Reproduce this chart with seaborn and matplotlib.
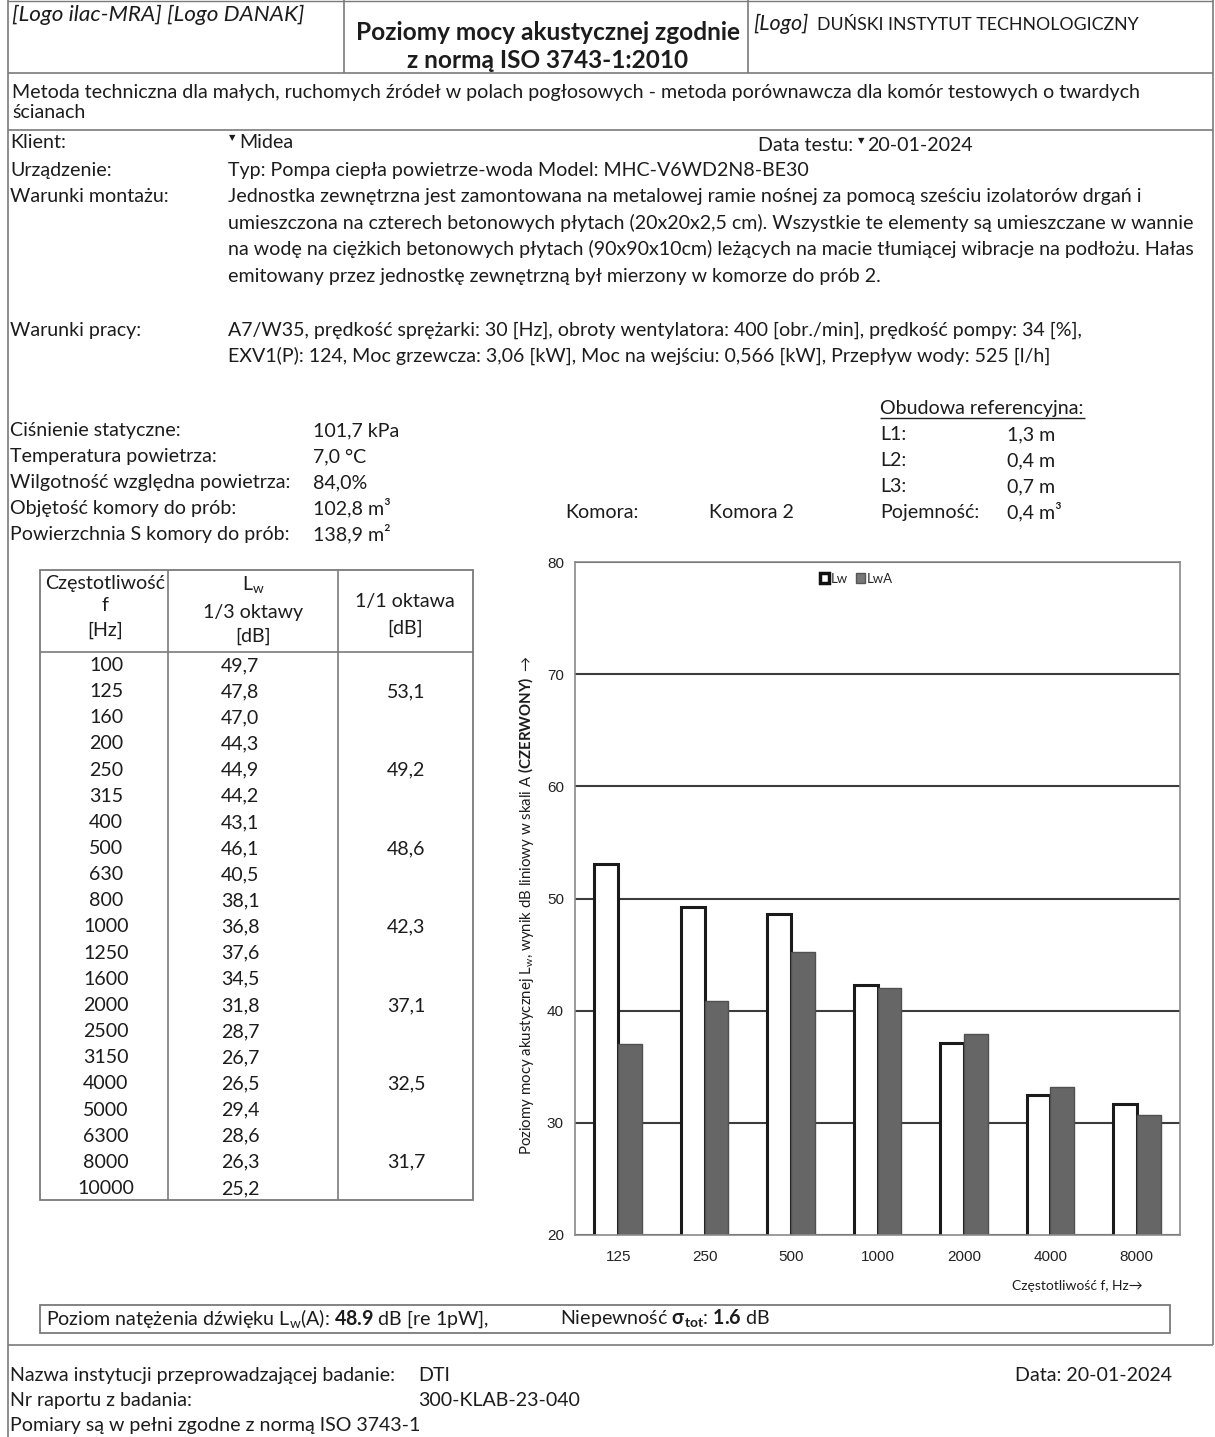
import matplotlib
matplotlib.use('Agg')
import matplotlib.pyplot as plt
from matplotlib.patches import Patch, Rectangle
import pandas as pd
import seaborn as sns

# octave band levels shown in the chart [dB]
bands = ['125', '250', '500', '1000', '2000', '4000', '8000']
lw_oct = [53.1, 49.2, 48.6, 42.3, 37.1, 32.5, 31.7]
lwa_oct = [37.0, 40.9, 45.2, 42.0, 37.9, 33.2, 30.7]

# 1/3 octave table
third_freqs = [100, 125, 160, 200, 250, 315, 400, 500, 630, 800, 1000,
               1250, 1600, 2000, 2500, 3150, 4000, 5000, 6300, 8000, 10000]
lw_third = [49.7, 47.8, 47.0, 44.3, 44.9, 44.2, 43.1, 46.1, 40.5, 38.1, 36.8,
            37.6, 34.5, 31.8, 28.7, 26.7, 26.5, 29.4, 28.6, 26.3, 25.2]

lwa_total = 48.9
sigma_tot = 1.6

sns.set_style('white')
plt.rcParams['font.family'] = ['Lato', 'DejaVu Sans']
plt.rcParams['mathtext.fontset'] = 'custom'
plt.rcParams['mathtext.rm'] = 'Lato'
plt.rcParams['mathtext.it'] = 'Lato:italic'
plt.rcParams['mathtext.bf'] = 'Lato:bold'

W, H = 1215, 1437
BODY = 14.1
INK = '#1c1c1c'
LINE = '#7a7a7a'


def comma(v):
    return f'{v:.1f}'.replace('.', ',')


fig = plt.figure(figsize=(W / 100, H / 100), dpi=100)
bg = fig.add_axes([0, 0, 1, 1])
bg.set_xlim(0, W)
bg.set_ylim(H, 0)
bg.axis('off')


def txt(x, y, s, size=BODY, **kw):
    kw.setdefault('va', 'baseline')
    kw.setdefault('color', INK)
    return bg.text(x, y, s, fontsize=size, **kw)


def hline(y, x0=8, x1=1213, c=LINE, lw=1.2):
    bg.plot([x0, x1], [y, y], color=c, lw=lw, solid_capstyle='butt')


def vline(x, y0, y1, c=LINE, lw=1.2):
    bg.plot([x, x], [y0, y1], color=c, lw=lw, solid_capstyle='butt')


# page frame
vline(8, 0, H)
vline(1213, 0, 1345)
vline(344, 0, 73)
vline(748, 0, 73)
hline(1, lw=1.0)
hline(73)
hline(130)
hline(1345)

# header
txt(12, 21, '[Logo ilac-MRA] [Logo DANAK]', size=16.2, style='italic')
txt(548, 40, 'Poziomy mocy akustycznej zgodnie', size=17.6, weight='bold', ha='center')
txt(548, 68, 'z normą ISO 3743-1:2010', size=17.6, weight='bold', ha='center')
txt(753, 30, '[Logo]', size=15.5, style='italic')
txt(817, 30, 'DUŃSKI INSTYTUT TECHNOLOGICZNY', size=12.8)

txt(12, 98, 'Metoda techniczna dla małych, ruchomych źródeł w polach pogłosowych - '
            'metoda porównawcza dla komór testowych o twardych')
txt(12, 118, 'ścianach')

# general info
txt(10, 148, 'Klient:')
txt(229, 140, '▼', size=6, family='DejaVu Sans')
txt(239, 148, 'Midea')
txt(758, 151, 'Data testu:')
txt(858, 143, '▼', size=6, family='DejaVu Sans')
txt(867, 151, '20-01-2024')
txt(10, 176, 'Urządzenie:')
txt(228, 176, 'Typ: Pompa ciepła powietrze-woda Model: MHC-V6WD2N8-BE30')
txt(10, 202, 'Warunki montażu:')
mount = ['Jednostka zewnętrzna jest zamontowana na metalowej ramie nośnej za pomocą sześciu izolatorów drgań i',
         'umieszczona na czterech betonowych płytach (20x20x2,5 cm). Wszystkie te elementy są umieszczane w wannie',
         'na wodę na ciężkich betonowych płytach (90x90x10cm) leżących na macie tłumiącej wibracje na podłożu. Hałas',
         'emitowany przez jednostkę zewnętrzną był mierzony w komorze do prób 2.']
for i, s in enumerate(mount):
    txt(228, 202 + 26.7 * i, s)
txt(10, 336, 'Warunki pracy:')
txt(228, 336, 'A7/W35, prędkość sprężarki: 30 [Hz], obroty wentylatora: 400 [obr./min], prędkość pompy: 34 [%],')
txt(228, 362, 'EXV1(P): 124, Moc grzewcza: 3,06 [kW], Moc na wejściu: 0,566 [kW], Przepływ wody: 525 [l/h]')

# ambient conditions
cond_lbl = ['Ciśnienie statyczne:', 'Temperatura powietrza:', 'Wilgotność względna powietrza:',
            'Objętość komory do prób:', 'Powierzchnia S komory do prób:']
cond_val = ['101,7 kPa', '7,0 °C', '84,0%', '102,8 m³', '138,9 m²']
for i, (a, b) in enumerate(zip(cond_lbl, cond_val)):
    txt(10, 436 + 26 * i, a)
    txt(313, 436 + 26 * i, b)

txt(880, 414, 'Obudowa referencyjna:')
hline(418, 880, 1085, c=INK, lw=1.0)
box_lbl = ['L1:', 'L2:', 'L3:', 'Pojemność:']
box_val = ['1,3 m', '0,4 m', '0,7 m', '0,4 m³']
for i, (a, b) in enumerate(zip(box_lbl, box_val)):
    txt(880, 440 + 26 * i, a)
    txt(1007, 440 + 26 * i, b)
txt(565, 518, 'Komora:')
txt(709, 518, 'Komora 2')

# table
bg.add_patch(Rectangle((40, 570), 433, 630, fill=False, ec=LINE, lw=1.3))
vline(168, 570, 1200)
vline(338, 570, 1200)
hline(652, 40, 473)
txt(105, 589, 'Częstotliwość', ha='center')
txt(105, 611, 'f', ha='center')
txt(105, 636, '[Hz]', ha='center')
txt(253, 590, r'L$_{\mathrm{w}}$', size=14, ha='center')
txt(253, 618, '1/3 oktawy', ha='center')
txt(253, 642, '[dB]', ha='center')
txt(405, 607, '1/1 oktawa', ha='center')
txt(405, 634, '[dB]', ha='center')
for i, (f, v) in enumerate(zip(third_freqs, lw_third)):
    y = 671 + 26.15 * i
    txt(106, y, str(f), ha='center')
    txt(240, y, comma(v), ha='center')
for b, v in zip(bands, lw_oct):
    i = third_freqs.index(int(b))
    txt(406, 671 + 26.15 * i, comma(v), ha='center')

# summary box
bg.add_patch(Rectangle((40, 1305), 1130, 28, fill=False, ec=LINE, lw=1.3))
txt(46, 1325, r'Poziom natężenia dźwięku L$_{\mathrm{w}}$(A): $\mathbf{' + f'{lwa_total}' + r'}$ dB [re 1pW],')
txt(560, 1325, r'Niepewność $\mathbf{\sigma_{tot}}$: $\mathbf{' + f'{sigma_tot}' + r'}$ dB')

# footer
txt(10, 1381, 'Nazwa instytucji przeprowadzającej badanie:')
txt(418, 1381, 'DTI')
txt(1172, 1381, 'Data: 20-01-2024', ha='right')
txt(10, 1406, 'Nr raportu z badania:')
txt(418, 1406, '300-KLAB-23-040')
txt(10, 1431, 'Pomiary są w pełni zgodne z normą ISO 3743-1')

# chart
df = pd.DataFrame({'band': bands * 2,
                   'series': ['Lw'] * len(bands) + ['LwA'] * len(bands),
                   'level': lw_oct + lwa_oct})
ax = fig.add_axes([575 / W, (H - 1235) / H, 605 / W, 673 / H])
sns.barplot(data=df, x='band', y='level', hue='series', order=bands,
            hue_order=['Lw', 'LwA'], palette={'Lw': 'white', 'LwA': '#666666'},
            saturation=1, width=0.55, errorbar=None, legend=False, ax=ax)
for bar in ax.containers[0]:
    bar.set_edgecolor('#1a1a1a')
    bar.set_linewidth(2.2)
for bar in ax.containers[1]:
    bar.set_edgecolor('#505050')
    bar.set_linewidth(1.0)
ax.set_ylim(20, 80)
ax.set_yticks(range(20, 81, 10))
ax.set_axisbelow(True)
ax.yaxis.grid(True, color='#3c3c3c', lw=1.5)
ax.set_xlabel('')
ax.set_ylabel('')
for sp in ax.spines.values():
    sp.set_color('#8a8a8a')
    sp.set_linewidth(1.2)
ax.set_xticks(range(len(bands)))
ax.set_xticks([i + 0.5 for i in range(len(bands) - 1)], minor=True)
ax.tick_params(axis='x', which='major', length=0, pad=11)
ax.tick_params(axis='x', which='minor', length=5, direction='inout', color='#8a8a8a')
ax.tick_params(axis='y', length=0, pad=8)
for lab in ax.get_xticklabels() + ax.get_yticklabels():
    lab.set_family('Liberation Sans')
    lab.set_fontsize(11)
    lab.set_color('#222222')

handles = [Patch(facecolor='white', edgecolor='#111111', lw=2.5, label='Lw'),
           Patch(facecolor='#777777', edgecolor='#555555', label='LwA')]
ax.legend(handles=handles, loc='upper center', bbox_to_anchor=(0.465, 1.0), ncol=2,
          frameon=False, fontsize=9.5, handlelength=0.7, handleheight=0.7,
          handletextpad=0.15, columnspacing=0.6, borderaxespad=0.4)

txt(526, 905, r'Poziomy mocy akustycznej L$_{\mathrm{w}}$, wynik dB liniowy w skali A '
              r'$\mathbf{(CZERWONY)}$ $\rightarrow$', size=10.8, rotation=90,
    ha='center', va='center')
txt(1143, 1290, 'Częstotliwość f, Hz→', size=10, ha='right')

fig.savefig('out.png', dpi=100, facecolor='white')
